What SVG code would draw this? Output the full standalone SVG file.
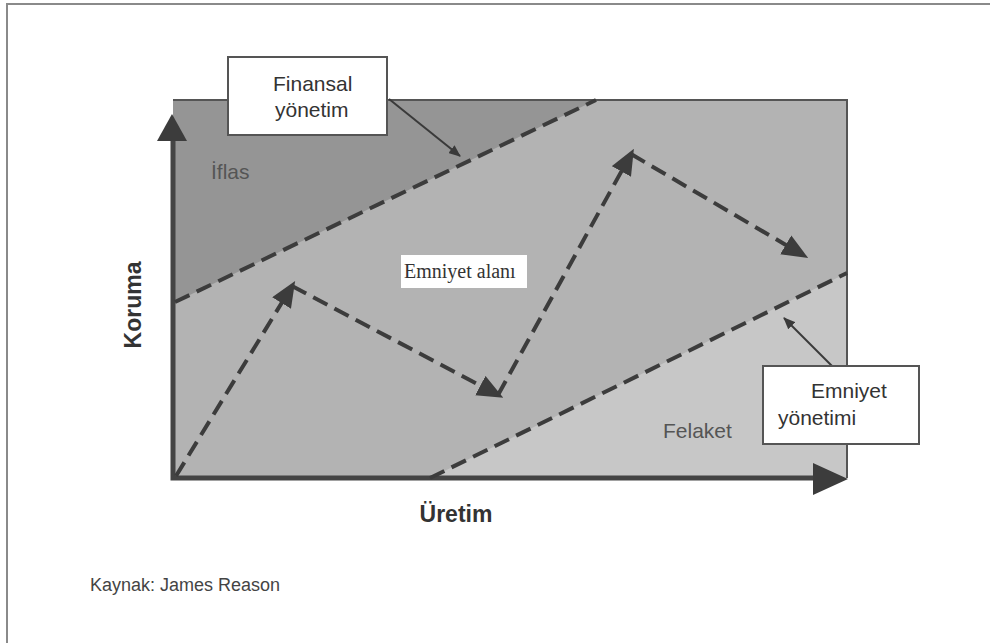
<svg xmlns="http://www.w3.org/2000/svg" width="990" height="643" viewBox="0 0 990 643">
  <style>
    .frame { fill: none; stroke: #8a8a8a; stroke-width: 2; }
    .zone-top { fill: #959595; }
    .zone-mid { fill: #b3b3b3; }
    .zone-low { fill: #c7c7c7; }
    .edge { fill: none; stroke: #555; stroke-width: 2; }
    .axis { fill: none; stroke: #444; stroke-width: 5; }
    .axis-head { fill: #3c3c3c; }
    .dash { fill: none; stroke: #3c3c3c; stroke-width: 4; stroke-dasharray: 16 8; }
    .pointer { fill: none; stroke: #3a3a3a; stroke-width: 2; }
    .callout { fill: #fff; stroke: #555; stroke-width: 2; }
    .label { font-family: "Liberation Sans", Arial, sans-serif; font-size: 21px; fill: #333; }
    .zone-label { font-family: "Liberation Sans", Arial, sans-serif; font-size: 21px; fill: #555; }
    .axis-label { font-family: "Liberation Sans", Arial, sans-serif; font-size: 23px; font-weight: bold; fill: #333; }
    .serif { font-family: "Liberation Serif", "Times New Roman", serif; font-size: 20px; fill: #333; }
    .source { font-family: "Liberation Sans", Arial, sans-serif; font-size: 18px; fill: #444; }
  </style>
  <defs>
    <marker id="head" markerUnits="userSpaceOnUse" markerWidth="26" markerHeight="22" refX="20" refY="11" orient="auto">
      <path d="M0,0 L26,11 L0,22 z" fill="#3c3c3c"/>
    </marker>
    <marker id="small-head" markerUnits="userSpaceOnUse" markerWidth="12" markerHeight="10" refX="11" refY="5" orient="auto">
      <path d="M0,0 L12,5 L0,10 z" fill="#3a3a3a"/>
    </marker>
  </defs>

  <rect width="990" height="643" fill="#fff"/>
  <!-- outer page frame: left and top rules -->
  <path class="frame" d="M7,643 V4 H990"/>

  <!-- plot zones -->
  <g id="zones">
    <rect class="zone-mid" x="173" y="100" width="674" height="378"/>
    <polygon id="iflas-zone" class="zone-top" points="173,100 596,100 173,303"/>
    <polygon id="felaket-zone" class="zone-low" points="430,478 847,273 847,478"/>
    <path class="edge" d="M173,100 H847 V478"/>
  </g>

  <!-- axes -->
  <g id="axes">
    <path class="axis" d="M173,130 V478 H820"/>
    <polygon class="axis-head" points="172,114 187,141 157,141"/>
    <polygon class="axis-head" points="848,479 813,463 813,495"/>
  </g>

  <!-- connectors -->
  <g id="connectors">
    <line class="dash" x1="175" y1="302" x2="596" y2="100"/>
    <line class="dash" x1="430" y1="478" x2="847" y2="273"/>
    <line class="dash" x1="176" y1="476" x2="292" y2="286" marker-end="url(#head)"/>
    <line class="dash" x1="292" y1="286" x2="498" y2="395" marker-end="url(#head)"/>
    <line class="dash" x1="498" y1="395" x2="631" y2="154" marker-end="url(#head)"/>
    <line class="dash" x1="631" y1="154" x2="803" y2="255" marker-end="url(#head)"/>
    <line class="pointer" x1="389" y1="99" x2="460" y2="156" marker-end="url(#small-head)"/>
    <line class="pointer" x1="832" y1="366" x2="784" y2="318" marker-end="url(#small-head)"/>
  </g>

  <g id="finansal-yonetim">
    <rect class="callout" x="228" y="57" width="159" height="78"/>
    <text class="label" x="273" y="91">Finansal</text>
    <text class="label" x="275" y="117">yönetim</text>
  </g>

  <g id="emniyet-yonetimi">
    <rect class="callout" x="763" y="366" width="156" height="78"/>
    <text class="label" x="811" y="398">Emniyet</text>
    <text class="label" x="778" y="425">yönetimi</text>
  </g>

  <g id="emniyet-alani">
    <rect x="401" y="255" width="126" height="33" fill="#fff"/>
    <text class="serif" x="404" y="278">Emniyet alanı</text>
  </g>

  <g id="iflas">
    <text class="zone-label" x="211" y="179">İflas</text>
  </g>

  <g id="felaket">
    <text class="zone-label" x="663" y="438">Felaket</text>
  </g>

  <text class="axis-label" transform="translate(141,305) rotate(-90)" text-anchor="middle">Koruma</text>
  <text class="axis-label" x="456" y="522" text-anchor="middle">Üretim</text>
  <text class="source" x="90" y="591">Kaynak: James Reason</text>
</svg>
